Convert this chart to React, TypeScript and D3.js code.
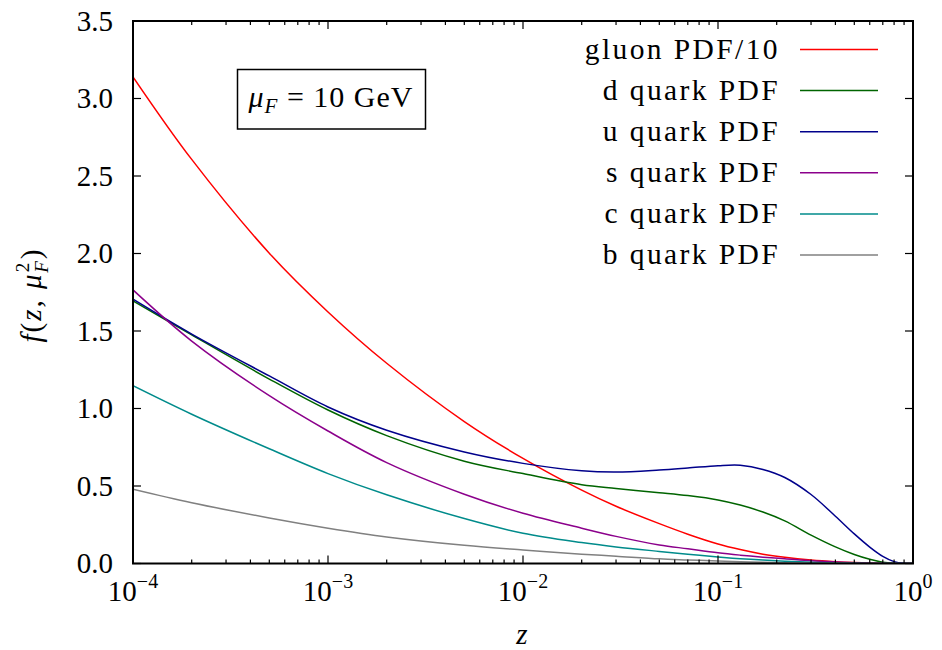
import React from "react";
import * as d3 from "d3";

const zGrid = [1e-4, 2e-4, 5e-4, 1e-3, 2e-3, 5e-3, 1e-2, 2e-2, 3e-2, 5e-2, 0.07, 0.1, 0.13, 0.17, 0.22, 0.3, 0.4, 0.5, 0.6, 0.7, 0.8, 0.9, 1.0];

const gluon = [3.14, 2.607, 2.002, 1.623, 1.292, 0.916, 0.678, 0.473, 0.369, 0.257, 0.189, 0.126, 0.09, 0.06, 0.0396, 0.022, 0.0113, 0.006, 0.0032, 0.0016, 0.0006, 0.0001, 0];
const dQuark = [1.695, 1.475, 1.19, 0.99, 0.825, 0.66, 0.58, 0.508, 0.484, 0.457, 0.438, 0.41, 0.377, 0.332, 0.275, 0.183, 0.107, 0.058, 0.027, 0.008, 0.001, 0, 0];
const uQuark = [1.705, 1.48, 1.21, 1.01, 0.86, 0.72, 0.646, 0.598, 0.59, 0.603, 0.616, 0.631, 0.634, 0.607, 0.555, 0.445, 0.305, 0.191, 0.106, 0.046, 0.012, 0.001, 0];
const sQuark = [1.765, 1.435, 1.083, 0.855, 0.651, 0.447, 0.324, 0.228, 0.175, 0.12, 0.095, 0.069, 0.054, 0.041, 0.031, 0.018, 0.01, 0.005, 0.0025, 0.001, 0.0003, 0, 0];
const cQuark = [1.147, 0.963, 0.74, 0.58, 0.443, 0.29, 0.195, 0.135, 0.107, 0.078, 0.06, 0.042, 0.031, 0.022, 0.015, 0.008, 0.004, 0.0015, 0.0005, 0, 0, 0, 0];
const bQuark = [0.479, 0.392, 0.294, 0.228, 0.171, 0.117, 0.087, 0.06, 0.047, 0.03, 0.023, 0.016, 0.011, 0.0075, 0.0045, 0.002, 0.001, 0.0003, 0, 0, 0, 0, 0];

const seriesNames = ["gluon PDF/10", "d quark PDF", "u quark PDF", "s quark PDF", "c quark PDF", "b quark PDF"];
const seriesValues = [gluon, dQuark, uQuark, sQuark, cQuark, bQuark];
const seriesColors = ["#ff0000", "#006400", "#00008b", "#8b008b", "#008b8b", "#808080"];

const yTicks = [0, 0.5, 1.0, 1.5, 2.0, 2.5, 3.0, 3.5];
const xMajorExp = [-4, -3, -2, -1, 0];

const W = 942;
const H = 650;
const L = 133, R = 913, T = 21, B = 563.5;
const FONT = "'Liberation Serif', 'DejaVu Serif', serif";

export default function App() {
  const x = d3.scaleLog().domain([1e-4, 1]).range([L, R]);
  const y = d3.scaleLinear().domain([0, 3.5]).range([B, T]);

  const line = d3
    .line<[number, number]>()
    .x((d) => x(d[0]))
    .y((d) => y(d[1]))
    .curve(d3.curveCatmullRom.alpha(0.5));

  const minorTicks: number[] = [];
  for (let e = -4; e < 0; e++) {
    for (let m = 2; m <= 9; m++) minorTicks.push(m * Math.pow(10, e));
  }

  const legendY0 = 49.5;
  const legendStep = 41.1;

  return (
    <svg
      width={W}
      height={H}
      style={{ position: "absolute", left: 0, top: 0, display: "block", background: "#fff" }}
      fontFamily={FONT}
    >
      <defs>
        <clipPath id="plotclip">
          <rect x={L} y={T} width={R - L} height={B - T} />
        </clipPath>
      </defs>
      <rect x={0} y={0} width={W} height={H} fill="#fff" />

      {/* curves */}
      <g clipPath="url(#plotclip)">
        {seriesValues.map((vals, i) => (
          <path
            key={seriesNames[i]}
            d={line(zGrid.map((z, k) => [z, vals[k]] as [number, number])) || ""}
            fill="none"
            stroke={seriesColors[i]}
            strokeWidth={1.5}
          />
        ))}
      </g>

      {/* ticks */}
      <g stroke="#000" strokeWidth={1.2}>
        {yTicks.map((t) => (
          <g key={"yt" + t}>
            <line x1={L} x2={L + 8} y1={y(t)} y2={y(t)} />
            <line x1={R} x2={R - 8} y1={y(t)} y2={y(t)} />
          </g>
        ))}
        {xMajorExp.map((e) => {
          const px = x(Math.pow(10, e));
          return (
            <g key={"xt" + e}>
              <line x1={px} x2={px} y1={B} y2={B - 8} />
              <line x1={px} x2={px} y1={T} y2={T + 8} />
            </g>
          );
        })}
        {minorTicks.map((m) => {
          const px = x(m);
          return (
            <g key={"xm" + m}>
              <line x1={px} x2={px} y1={B} y2={B - 4} />
              <line x1={px} x2={px} y1={T} y2={T + 4} />
            </g>
          );
        })}
      </g>

      {/* frame */}
      <rect x={L} y={T} width={R - L} height={B - T} fill="none" stroke="#000" strokeWidth={2} />

      {/* y tick labels */}
      <g fontSize={29} fill="#000" textAnchor="end">
        {yTicks.map((t) => (
          <text key={"yl" + t} x={113} y={y(t) + 9.5}>
            {t.toFixed(1)}
          </text>
        ))}
      </g>

      {/* x tick labels */}
      <g fontSize={29} fill="#000" textAnchor="middle">
        {xMajorExp.map((e) => (
          <text key={"xl" + e} x={x(Math.pow(10, e))} y={601}>
            10
            <tspan fontSize={20} dy={-13}>
              {e < 0 ? "\u2212" + Math.abs(e) : String(e)}
            </tspan>
          </text>
        ))}
      </g>

      {/* axis titles */}
      <text x={522} y={644} fontSize={29} fontStyle="italic" textAnchor="middle">
        z
      </text>
      <g transform="translate(41, 295) rotate(-90)">
        <text x={0} y={0} fontSize={29} textAnchor="middle" letterSpacing={2}>
          <tspan fontStyle="italic">f</tspan>
          <tspan>(</tspan>
          <tspan fontStyle="italic">z</tspan>
          <tspan>, </tspan>
          <tspan fontStyle="italic">μ</tspan>
          <tspan fontSize={19} dy={-12}>2</tspan>
          <tspan fontSize={19} fontStyle="italic" dx={-12} dy={19}>F</tspan>
          <tspan dy={-7}>)</tspan>
        </text>
      </g>

      {/* mu_F box */}
      <rect x={237.5} y={69.5} width={188} height={59.5} fill="#fff" stroke="#000" strokeWidth={1.5} />
      <text x={331} y={107} fontSize={30} textAnchor="middle" letterSpacing={1}>
        <tspan fontStyle="italic">μ</tspan>
        <tspan fontStyle="italic" fontSize={21} dy={6}>F</tspan>
        <tspan dy={-6}> = 10 GeV</tspan>
      </text>

      {/* legend */}
      <g>
        {seriesNames.map((name, i) => {
          const ly = legendY0 + i * legendStep;
          return (
            <g key={"lg" + name}>
              <text x={780} y={ly + 9} fontSize={29.5} textAnchor="end" letterSpacing={2.4}>
                {name}
              </text>
              <line x1={800} x2={878} y1={ly} y2={ly} stroke={seriesColors[i]} strokeWidth={1.5} />
            </g>
          );
        })}
      </g>
    </svg>
  );
}
